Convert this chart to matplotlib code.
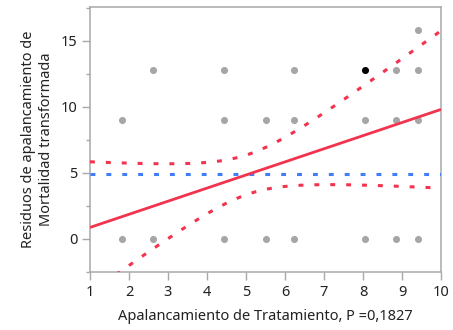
import numpy as np
import matplotlib
matplotlib.use("Agg")
import matplotlib.pyplot as plt
from matplotlib.ticker import MultipleLocator

plt.rcParams["font.family"] = ["Noto Sans", "DejaVu Sans"]

# Leverage residuals (x = treatment leverage, y = transformed mortality residual)
pts_x = [1.83, 1.83, 2.61, 2.61, 4.44, 4.44, 4.44, 5.50, 5.50,
         6.24, 6.24, 6.24, 8.06, 8.06, 8.85, 8.85, 8.85,
         9.42, 9.42, 9.42, 9.42]
pts_y = [0.0, 9.0, 0.0, 12.8, 0.0, 9.0, 12.8, 0.0, 9.0,
         0.0, 9.0, 12.8, 0.0, 9.0, 0.0, 9.0, 12.8,
         0.0, 9.0, 12.8, 15.8]
# Highlighted row
sel_x = [8.06]
sel_y = [12.8]

# Fit summary
x_mean = 5.06
y_mean = 4.90
slope = 0.992
ci_center = 1.5      # half-width of the 95% band at the mean of x
ci_slope = 1.166     # growth of the half-width per unit distance from the mean

p_label = "0,1827"

fig = plt.figure(figsize=(4.53, 3.30), dpi=100)
ax = fig.add_axes([90 / 453, 58 / 330, 351 / 453, 265 / 330])

xs = np.linspace(1, 10, 300)
fit = y_mean + slope * (xs - x_mean)
hw = np.sqrt(ci_center ** 2 + (ci_slope * (xs - x_mean)) ** 2)

red = "#f2334d"
blue = "#3f7dfb"

ax.scatter(pts_x, pts_y, s=26, color="#a6a6a6", zorder=2, linewidths=0)
ax.scatter(sel_x, sel_y, s=26, color="#000000", zorder=3, linewidths=0)

ax.plot(xs, np.full_like(xs, y_mean), color=blue, lw=2.2,
        dashes=(1.6, 3.6), dash_capstyle="butt", zorder=4)
ax.plot(xs, fit + hw, color=red, lw=2.2, dashes=(1.6, 3.6), zorder=4)
ax.plot(xs, fit - hw, color=red, lw=2.2, dashes=(1.6, 3.6), zorder=4)
ax.plot(xs, fit, color=red, lw=2.0, solid_capstyle="butt", zorder=5)

ax.set_xlim(1, 10)
ax.set_ylim(-2.5, 17.55)
ax.xaxis.set_major_locator(MultipleLocator(1))
ax.yaxis.set_major_locator(MultipleLocator(5))
ax.yaxis.set_minor_locator(MultipleLocator(2.5))

for s in ax.spines.values():
    s.set_color("#a8a8a8")
    s.set_linewidth(1.1)

ax.tick_params(axis="both", which="major", length=6, width=1.0,
               color="#a8a8a8", labelsize=10.5, labelcolor="#222222", pad=3)
ax.tick_params(axis="y", which="minor", length=3, width=1.0, color="#a8a8a8")

ax.set_xlabel(f"Apalancamiento de Tratamiento, P ={p_label}",
              fontsize=10.5, color="#222222", labelpad=7)
ax.set_ylabel("Residuos de apalancamiento de\nMortalidad transformada",
              fontsize=10.5, color="#222222", labelpad=5, linespacing=1.25)

fig.savefig("out.png", dpi=100)
